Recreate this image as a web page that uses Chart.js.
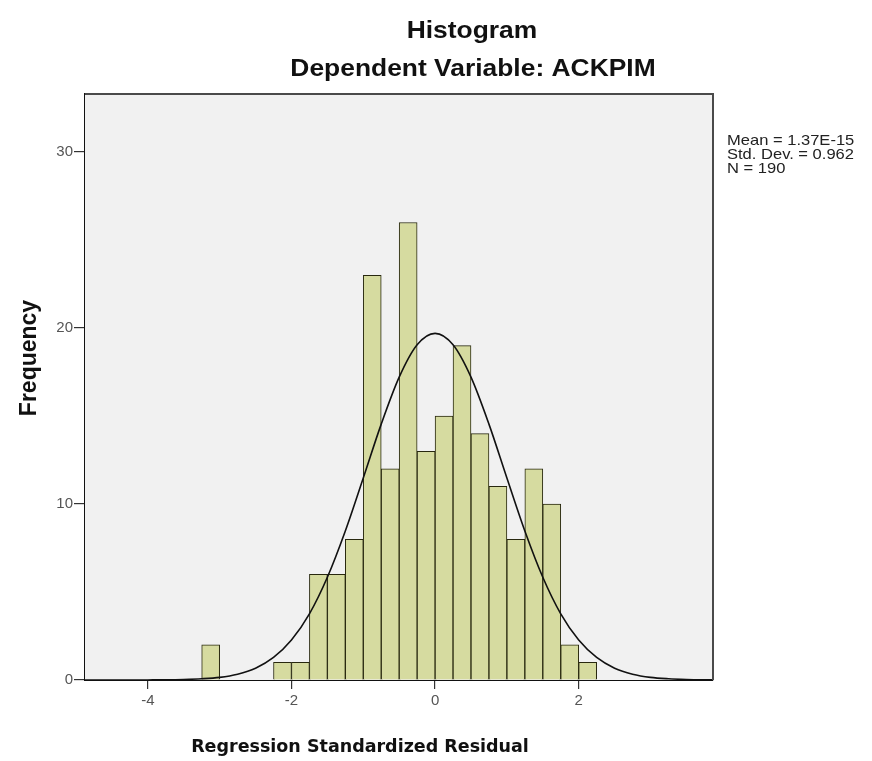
<!DOCTYPE html>
<html>
<head>
<meta charset="utf-8">
<script src="https://cdn.jsdelivr.net/npm/chart.js@4/dist/chart.umd.min.js"></script>
<style>
  html, body { margin: 0; padding: 0; background: #fff; }
  #wrap { width: 872px; height: 761px; position: relative; }
</style>
</head>
<body>
<div id="wrap"><canvas id="hist-canvas"></canvas></div>
<script>
// residual histogram, bins of width 0.25 (midpoints)
const binMids = [-3.125, -2.125, -1.875, -1.625, -1.375, -1.125, -0.875, -0.625, -0.375, -0.125,
                 0.125, 0.375, 0.625, 0.875, 1.125, 1.375, 1.625, 1.875, 2.125];
const binCounts = [2, 1, 1, 6, 6, 8, 23, 12, 26, 13,
                   15, 19, 14, 11, 8, 12, 10, 2, 1];

// normal curve overlay
const curveX = [-4.875, -4.5, -4.25, -4, -3.75, -3.5, -3.25, -3, -2.75, -2.5, -2.25, -2, -1.75, -1.5, -1.25, -1, -0.75, -0.5, -0.25,
                0, 0.25, 0.5, 0.75, 1, 1.25, 1.5, 1.75, 2, 2.25, 2.5, 2.75, 3, 3.25, 3.5, 3.75, 3.87];
const curveY = [0, 0, 0, 0.004, 0.01, 0.03, 0.07, 0.15, 0.33, 0.67, 1.28, 2.27, 3.76, 5.84, 8.47, 11.48, 14.54, 17.21, 19.05,
                19.70, 19.05, 17.21, 14.54, 11.48, 8.47, 5.84, 3.76, 2.27, 1.28, 0.67, 0.33, 0.15, 0.07, 0.03, 0.01, 0.005];

const xTicks = [-4, -2, 0, 2];
const yTicks = [0, 10, 20, 30];

const titleText = 'Histogram';
const subtitleText = 'Dependent Variable: ACKPIM';
const statLines = ['Mean = 1.37E-15', 'Std. Dev. = 0.962', 'N = 190'];
const xTitle = 'Regression Standardized Residual';
const yTitle = 'Frequency';

function stretched_text(ctx, txt, x, y, sx, align){
  ctx.save();
  ctx.translate(x, y);
  ctx.scale(sx, 1);
  ctx.textAlign = align || 'left';
  ctx.fillText(txt, 0, 0);
  ctx.restore();
}

const frame = {
  id: 'frame',
  beforeDatasetsDraw(chart){
    const {ctx, chartArea: a} = chart;
    ctx.save();
    ctx.fillStyle = '#f1f1f1';
    ctx.fillRect(a.left, a.top, a.right - a.left, a.bottom - a.top);
    ctx.restore();
  },
  afterDraw(chart){
    const {ctx, chartArea: a} = chart;
    ctx.save();
    ctx.strokeStyle = '#4a4a4a';
    ctx.lineWidth = 2;
    ctx.beginPath();
    ctx.moveTo(a.left, a.top);
    ctx.lineTo(a.right, a.top);
    ctx.lineTo(a.right, a.bottom);
    ctx.stroke();

    ctx.fillStyle = '#111';
    ctx.textBaseline = 'alphabetic';
    ctx.font = 'bold 24px "Liberation Sans", Arial, sans-serif';
    stretched_text(ctx, titleText, 472, 38, 1.1, 'center');
    stretched_text(ctx, subtitleText, 473, 76, 1.1, 'center');

    ctx.font = 'bold 17.5px "DejaVu Sans", sans-serif';
    stretched_text(ctx, xTitle, 360, 752, 1, 'center');

    ctx.save();
    ctx.translate(36, 358);
    ctx.rotate(-Math.PI / 2);
    ctx.font = 'bold 23px "Liberation Sans", Arial, sans-serif';
    ctx.textAlign = 'center';
    ctx.fillText(yTitle, 0, 0);
    ctx.restore();

    ctx.fillStyle = '#222';
    ctx.font = '14.5px "Liberation Sans", Arial, sans-serif';
    statLines.forEach((s, i) => stretched_text(ctx, s, 727, 145 + i * 14, 1.14, 'left'));
    ctx.restore();
  }
};

const ctx = document.getElementById('hist-canvas');
const myChart = new Chart(ctx, {
  type: 'bar',
  plugins: [frame],
  data: {
    datasets: [{
      type: 'line',
      label: 'normal',
      data: curveX.map((x, i) => ({x: x, y: curveY[i]})),
      borderColor: '#111',
      borderWidth: 1.6,
      pointRadius: 0,
      fill: false,
      cubicInterpolationMode: 'monotone',
      order: 0
    }, {
      type: 'bar',
      label: 'frequency',
      data: binMids.map((x, i) => ({x: x, y: binCounts[i]})),
      backgroundColor: 'rgb(214, 219, 160)',
      borderColor: 'rgb(40, 40, 15)',
      borderWidth: 1,
      borderSkipped: 'bottom',
      barPercentage: 1,
      categoryPercentage: 1,
      grouped: false,
      order: 1
    }]
  },
  options: {
    animation: false,
    responsive: true,
    maintainAspectRatio: false,
    events: [],
    layout: {
      padding: {left: 0, top: 94, right: 159, bottom: 0}
    },
    plugins: {
      legend: false,
      title: {display: false},
      tooltip: {enabled: false}
    },
    scales: {
      x: {
        type: 'linear',
        min: -4.875,
        max: 3.87,
        offset: false,
        afterFit: (s) => { s.height = 81; },
        afterBuildTicks: (s) => { s.ticks = xTicks.map(v => ({value: v})); },
        grid: {display: true, offset: false, drawOnChartArea: false, drawTicks: true, tickLength: 9, color: '#333', lineWidth: 1.2},
        border: {display: true, color: '#111', width: 2},
        ticks: {
          padding: 3,
          color: '#555',
          maxRotation: 0,
          autoSkip: false,
          font: {family: '"Liberation Sans", Arial, sans-serif', size: 15},
          callback: (v) => String(v)
        }
      },
      y: {
        min: 0,
        max: 33.3,
        afterFit: (s) => { s.width = 85; },
        afterBuildTicks: (s) => { s.ticks = yTicks.map(v => ({value: v})); },
        grid: {display: true, drawOnChartArea: false, drawTicks: true, tickLength: 11, color: '#333', lineWidth: 1.2},
        border: {display: true, color: '#111', width: 2},
        ticks: {
          padding: 1,
          color: '#555',
          autoSkip: false,
          font: {family: '"Liberation Sans", Arial, sans-serif', size: 15},
          callback: (v) => String(v)
        }
      }
    }
  }
});
</script>
</body>
</html>
